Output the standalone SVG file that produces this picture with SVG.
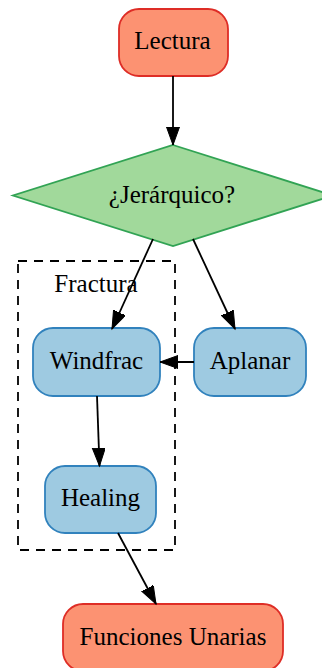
<svg xmlns="http://www.w3.org/2000/svg" width="322" height="668" viewBox="0 0 322 668">
  <defs>
    <marker id="arrow" markerUnits="userSpaceOnUse" markerWidth="20" markerHeight="14" refX="18" refY="6.5" orient="auto">
      <path d="M0,0 L18,6.5 L0,13 Z" fill="#000" stroke="#000" stroke-width="1"/>
    </marker>
  </defs>
  <style>
    text { font-size: 25px; fill: #000; text-anchor: middle; }
    .term { fill: #fc9272; stroke: #de2d26; stroke-width: 1.8; }
    .proc { fill: #9ecae1; stroke: #3182bd; stroke-width: 1.8; }
    .cond { fill: #a1d99b; stroke: #31a354; stroke-width: 1.8; }
    .cluster { fill: none; stroke: #000; stroke-width: 1.8; stroke-dasharray: 9 7; }
    .edge { fill: none; stroke: #000; stroke-width: 1.8; marker-end: url(#arrow); }
  </style>
  <rect width="322" height="668" fill="#fff"/>

  <g font-family="Liberation Serif, Times New Roman, serif">
    <!-- cluster: Fractura -->
    <g id="cluster_fractura">
      <rect class="cluster" x="18" y="261" width="157" height="289"/>
      <text x="96" y="292">Fractura</text>
    </g>

    <g id="lectura">
      <rect class="term" x="119" y="9" width="109" height="67" rx="20" ry="20"/>
      <text x="172.5" y="48.5">Lectura</text>
    </g>

    <g id="jerarquico">
      <polygon class="cond" points="173,145 333,195.5 173,246 13,195.5"/>
      <text x="172" y="203">¿Jerárquico?</text>
    </g>

    <g id="windfrac">
      <rect class="proc" x="33" y="328" width="127" height="68" rx="20" ry="20"/>
      <text x="96.5" y="368.5">Windfrac</text>
    </g>

    <g id="aplanar">
      <rect class="proc" x="194" y="328" width="112" height="68" rx="20" ry="20"/>
      <text x="250" y="368.5">Aplanar</text>
    </g>

    <g id="healing">
      <rect class="proc" x="45" y="466" width="111" height="67" rx="20" ry="20"/>
      <text x="100.5" y="505.5">Healing</text>
    </g>

    <g id="funciones_unarias">
      <rect class="term" x="63" y="604" width="220" height="67" rx="20" ry="20"/>
      <text x="173" y="644.5">Funciones Unarias</text>
    </g>
  </g>

  <!-- connectors -->
  <g id="edges">
    <line class="edge" x1="173" y1="76" x2="173" y2="145"/>
    <line class="edge" x1="153" y1="239" x2="112" y2="329"/>
    <line class="edge" x1="193" y1="239" x2="235" y2="329"/>
    <line class="edge" x1="194" y1="362" x2="160" y2="362"/>
    <line class="edge" x1="97" y1="396" x2="99.5" y2="466"/>
    <line class="edge" x1="118" y1="533" x2="156" y2="604"/>
  </g>
</svg>
